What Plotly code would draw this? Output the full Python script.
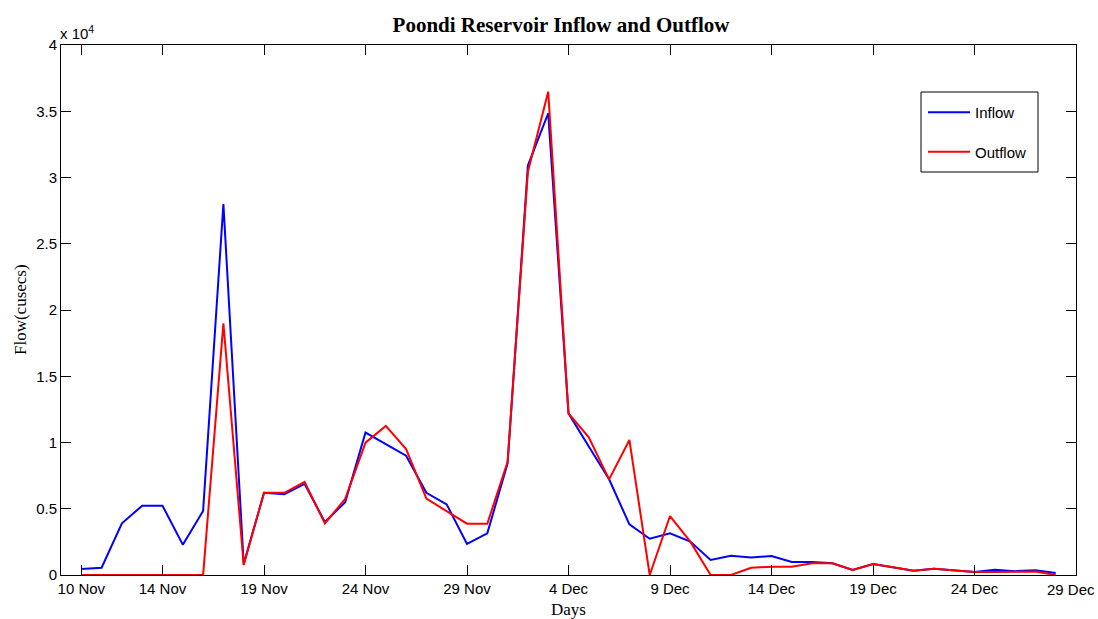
import plotly.graph_objects as go

days = list(range(1, 50))  # 10 Nov .. 28 Dec
tick_pos = [1, 5, 10, 15, 20, 25, 30, 35, 40, 45, 50]
tick_labels = ["10 Nov", "14 Nov", "19 Nov", "24 Nov", "29 Nov", "4 Dec",
               "9 Dec", "14 Dec", "19 Dec", "24 Dec", "29 Dec"]
y_ticks = [0, 5000, 10000, 15000, 20000, 25000, 30000, 35000, 40000]
y_tick_labels = ["0", "0.5", "1", "1.5", "2", "2.5", "3", "3.5", "4"]

inflow = [450, 550, 3900, 5230, 5230, 2290, 4830, 28000, 850, 6200,
          6100, 6870, 4000, 5500, 10750, 9900, 9000, 6200, 5330, 2340,
          3140, 8430, 30900, 34850, 12200, 9700, 7220, 3820, 2740, 3140,
          2520, 1130, 1450, 1330, 1430, 980, 980, 880, 380, 830,
          580, 330, 480, 330, 230, 400, 290, 350, 150]
outflow = [0, 0, 0, 0, 0, 0, 0, 19000, 750, 6200,
           6200, 7020, 3900, 5740, 9990, 11250, 9500, 5760, 4830, 3870,
           3870, 8550, 30440, 36480, 12200, 10390, 7220, 10190, 0, 4450,
           2520, 0, 0, 550, 630, 630, 880, 880, 380, 830,
           580, 330, 480, 330, 230, 230, 230, 260, 0]

W, H = 1098, 619
L, R, T, B = 61, 1076, 45, 575
pw, ph = R - L, B - T


def px(x):
    return (x - L) / pw


def py(y):
    return (B - y) / ph


fig = go.Figure()
fig.add_trace(go.Scatter(x=days, y=inflow, mode="lines", name="Inflow",
                         legendgroup="a", line=dict(color="#0000FF", width=2)))
fig.add_trace(go.Scatter(x=days, y=outflow, mode="lines", name="Outflow",
                         legendgroup="b", line=dict(color="#FF0000", width=2)))

tick_font = dict(family="Liberation Sans", size=15, color="black")
axis_common = dict(showline=True, linecolor="black", linewidth=1, mirror="ticks",
                   ticks="inside", ticklen=10, tickcolor="black", showgrid=False,
                   zeroline=False, automargin=False, ticklabeloverflow="allow",
                   tickfont=tick_font)

# last x label is drawn separately, nudged left so it stays inside the page
shown_x_labels = tick_labels[:-1] + [""]

fig.update_layout(
    width=W, height=H,
    margin=dict(l=L, r=W - R, t=T, b=H - B),
    paper_bgcolor="white", plot_bgcolor="white",
    title=dict(text="<b>Poondi Reservoir Inflow and Outflow</b>",
               font=dict(family="Liberation Serif", size=21, color="black"),
               x=px(561), xref="paper", xanchor="center",
               y=1 - 25 / H, yref="container", yanchor="middle"),
    xaxis=dict(range=[0, 50], tickvals=tick_pos, ticktext=shown_x_labels, **axis_common),
    yaxis=dict(range=[0, 40000], tickvals=y_ticks, ticktext=y_tick_labels, **axis_common),
    legend=dict(x=px(923), y=py(96), xanchor="left", yanchor="top",
                borderwidth=0, bgcolor="rgba(0,0,0,0)", itemwidth=42,
                font=dict(family="Liberation Sans", size=15, color="black"),
                tracegroupgap=17, traceorder="grouped"),
    showlegend=True,
)
# legend frame
fig.add_shape(type="rect", xref="paper", yref="paper",
              x0=px(921), x1=px(1038), y0=py(172), y1=py(92),
              line=dict(color="black", width=1), fillcolor="rgba(0,0,0,0)", layer="below")
# last x tick label
fig.add_annotation(text=tick_labels[-1], xref="paper", yref="paper", x=px(1071), y=py(589),
                   xanchor="center", yanchor="middle", showarrow=False, font=tick_font)
# axis titles
fig.add_annotation(text="Days", xref="paper", yref="paper", x=px(568), y=py(609),
                   xanchor="center", yanchor="middle", showarrow=False,
                   font=dict(family="Liberation Serif", size=17, color="black"))
fig.add_annotation(text="Flow(cusecs)", xref="paper", yref="paper", x=px(20), y=py(310),
                   xanchor="center", yanchor="middle", showarrow=False, textangle=-90,
                   font=dict(family="Liberation Serif", size=17, color="black"))
fig.add_annotation(text="x 10<sup>4</sup>", xref="paper", yref="paper", x=0, y=1,
                   xanchor="left", yanchor="bottom", showarrow=False, xshift=-3, yshift=1,
                   font=dict(family="Liberation Sans", size=15, color="black"))

fig.write_html("out.html")
